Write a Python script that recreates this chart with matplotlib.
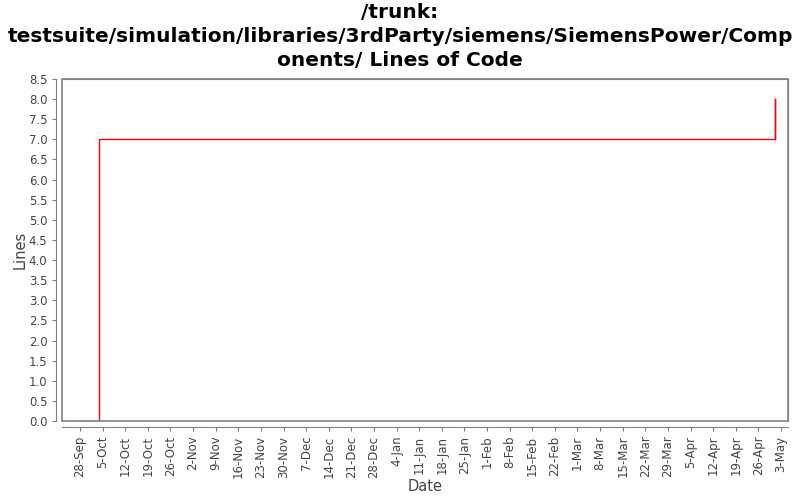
import matplotlib
matplotlib.use("Agg")
import matplotlib.pyplot as plt
import matplotlib.ticker as mticker
from matplotlib.patches import Rectangle
import numpy as np
from datetime import datetime, timedelta

# commit dates and line counts
dates = [datetime(2008, 9, 27), datetime(2008, 10, 4), datetime(2009, 5, 1)]
lines = [0, 7, 8]

fig = plt.figure(figsize=(8, 5), dpi=100)
ax = fig.add_axes([0.0775, 0.158, 0.9075, 0.684])

# jfreechart style: axis lines offset from the plot frame
for s in ax.spines.values():
    s.set_color('#808080')
ax.spines['left'].set_position(('outward', 4))
ax.spines['bottom'].set_position(('outward', 4))
ax.add_patch(Rectangle((0, 0), 1, 1, transform=ax.transAxes, fill=False,
                       edgecolor='#808080', lw=1.2, clip_on=False, zorder=3))

ax.step(dates, lines, where='post', color='red', lw=1)
# last value shows only as a vertical jump
ax.plot([dates[-1], dates[-1]], [lines[-2], lines[-1]], color='red', lw=1)

ax.set_xlim(datetime(2008, 9, 22, 10), datetime(2009, 5, 5, 4))
ax.set_ylim(0, 8.5)
ax.set_yticks(np.arange(0, 8.51, 0.5))
ax.yaxis.set_major_formatter(mticker.FormatStrFormatter('%.1f'))

ticks = [datetime(2008, 9, 28) + timedelta(days=7 * i) for i in range(32)]
ax.set_xticks(ticks)
ax.set_xticklabels([f"{d.day}-{d.strftime('%b')}" for d in ticks], rotation=90)
ax.tick_params(colors='#808080', labelcolor='#444444', labelsize=8.5, length=3)

ax.set_xlabel('Date', fontsize=10.5, color='#444444', labelpad=1)
ax.set_ylabel('Lines', fontsize=10.5, color='#444444', labelpad=1)
fig.suptitle('/trunk:\ntestsuite/simulation/libraries/3rdParty/siemens/SiemensPower/Comp\nonents/ Lines of Code',
             fontsize=14.5, fontweight='bold', y=0.995, linespacing=1.35)

fig.savefig('out.png', dpi=100)
